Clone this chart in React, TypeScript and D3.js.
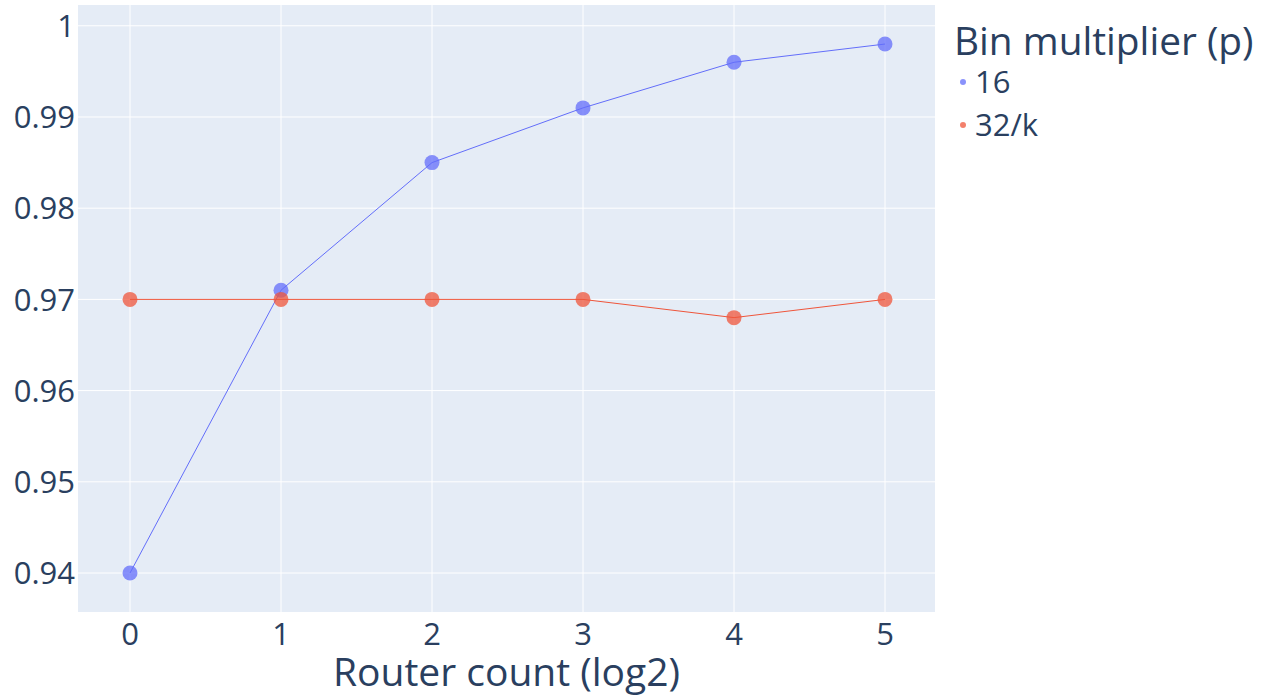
import React from "react";
import * as d3 from "d3";

const routerLog2: number[] = [0, 1, 2, 3, 4, 5];
const series16: number[] = [0.94, 0.971, 0.985, 0.991, 0.996, 0.998];
const series32k: number[] = [0.97, 0.97, 0.97, 0.97, 0.968, 0.97];
const seriesNames: string[] = ["16", "32/k"];
const seriesColors: string[] = ["#636efa", "#EF553B"];
const yTicks: number[] = [0.94, 0.95, 0.96, 0.97, 0.98, 0.99, 1];
const xTicks: number[] = [0, 1, 2, 3, 4, 5];
const xTitle = "Router count (log2)";
const legendTitle = "Bin multiplier (p)";

const W = 1261;
const H = 696;
const plot = { left: 78, right: 935, top: 5, bottom: 612 };
const FONT = "'Open Sans', sans-serif";
const TEXT = "#2a3f5f";

export default function App() {
  const x = d3.scaleLinear().domain([-0.3444, 5.3311]).range([plot.left, plot.right]);
  const y = d3.scaleLinear().domain([0.935724, 1.00228]).range([plot.bottom, plot.top]);
  const line = d3
    .line<[number, number]>()
    .x((d) => x(d[0]))
    .y((d) => y(d[1]));
  const allSeries = [series16, series32k];
  const fmt = (v: number) => String(+v.toFixed(2));

  return (
    <svg
      width={W}
      height={H}
      style={{ position: "absolute", left: 0, top: 0, display: "block", background: "#fff" }}
      fontFamily={FONT}
    >
      <rect
        x={plot.left}
        y={plot.top}
        width={plot.right - plot.left}
        height={plot.bottom - plot.top}
        fill="#E5ECF6"
      />
      {xTicks.map((t) => (
        <line key={"gx" + t} x1={x(t)} x2={x(t)} y1={plot.top} y2={plot.bottom} stroke="#fff" strokeWidth={1} />
      ))}
      {yTicks.map((t) => (
        <line key={"gy" + t} x1={plot.left} x2={plot.right} y1={y(t)} y2={y(t)} stroke="#fff" strokeWidth={1} />
      ))}
      {yTicks.map((t) => (
        <text
          key={"ty" + t}
          x={plot.left - 3}
          y={y(t)}
          dy="0.36em"
          textAnchor="end"
          fontSize={31}
          fill={TEXT}
        >
          {fmt(t)}
        </text>
      ))}
      {xTicks.map((t) => (
        <text key={"tx" + t} x={x(t)} y={645} textAnchor="middle" fontSize={31} fill={TEXT}>
          {t}
        </text>
      ))}
      <text
        x={(plot.left + plot.right) / 2}
        y={686}
        textAnchor="middle"
        fontSize={39}
        fill={TEXT}
      >
        {xTitle}
      </text>
      {allSeries.map((s, i) => {
        const pts = routerLog2.map((v, j) => [v, s[j]] as [number, number]);
        return (
          <g key={"s" + i}>
            <path d={line(pts) || ""} fill="none" stroke={seriesColors[i]} strokeWidth={1} />
            {pts.map((p, j) => (
              <circle
                key={j}
                cx={x(p[0])}
                cy={y(p[1])}
                r={7.5}
                fill={seriesColors[i]}
                fillOpacity={0.75}
              />
            ))}
          </g>
        );
      })}
      <text x={954} y={55} fontSize={38.8} fill={TEXT}>
        {legendTitle}
      </text>
      {seriesNames.map((n, i) => (
        <g key={"l" + i}>
          <circle cx={963} cy={82 + i * 43} r={3} fill={seriesColors[i]} fillOpacity={0.75} />
          <text x={975} y={93 + i * 43} fontSize={31} fill={TEXT}>
            {n}
          </text>
        </g>
      ))}
    </svg>
  );
}
